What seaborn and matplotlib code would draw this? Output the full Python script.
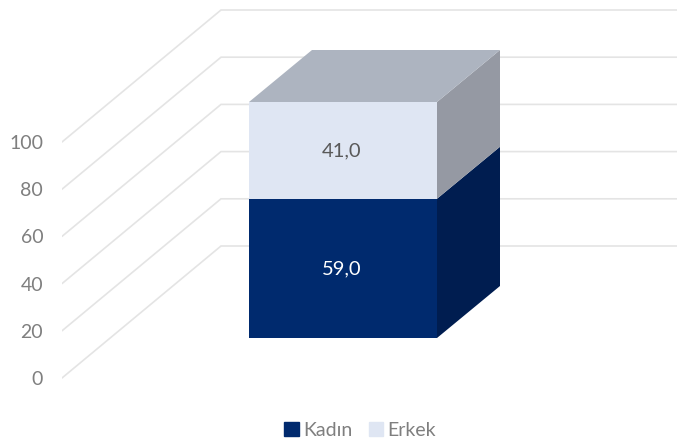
import matplotlib
matplotlib.use('Agg')
import matplotlib.pyplot as plt
from matplotlib.patches import Patch
import seaborn as sns

# Data
category = ['Cinsiyet']
kadin = [59.0]
erkek = [41.0]
ticks = [0, 20, 40, 60, 80, 100]

W, H = 677, 441
PX_PER_UNIT = 2.36

DARK, DARK_SIDE = '#002A6E', '#001D50'
LIGHT, LIGHT_SIDE, LIGHT_TOP = '#DFE6F3', '#9599A3', '#ADB4C0'
GRID = '#E4E4E4'
TEXT = '#7F7F7F'

sns.set_theme(style='white')
plt.rcParams['font.family'] = ['Lato', 'DejaVu Sans']

fig = plt.figure(figsize=(W / 100, H / 100), dpi=100)

# Back walls and value axis, x in pixels from the front of the side wall
wall_left = 62
ax_wall = fig.add_axes([wall_left / W, 0, 1 - wall_left / W, 1])
ax_wall.set_xlim(0, W - wall_left)
ax_wall.set_ylim((378 - H) / PX_PER_UNIT, 378 / PX_PER_UNIT)
wall_dx = 159
wall_dy = 132 / PX_PER_UNIT
for t in ticks:
    ax_wall.plot([0, wall_dx, W - wall_left], [t, t + wall_dy, t + wall_dy], color=GRID, lw=1.2, solid_joinstyle='miter')
ax_wall.set_yticks(ticks)
ax_wall.set_xticks([])
ax_wall.tick_params(axis='y', length=0, pad=13.5, labelsize=14, labelcolor=TEXT)
sns.despine(ax=ax_wall, left=True, bottom=True)
ax_wall.patch.set_alpha(0)

# Bar, front face through seaborn
ax = fig.add_axes([0, 0, 1, 1])
ax.patch.set_alpha(0)
total = [a + b for a, b in zip(kadin, erkek)]
sns.barplot(x=category, y=total, color=LIGHT, saturation=1, width=0.8, linewidth=0, ax=ax)
sns.barplot(x=category, y=kadin, color=DARK, saturation=1, width=0.8, linewidth=0, ax=ax)

px_per_cat = 188 / 0.8
center = 343
ax.set_xlim(-center / px_per_cat, (W - center) / px_per_cat)
ax.set_ylim((338 - H) / PX_PER_UNIT, 338 / PX_PER_UNIT)
ax.set_axis_off()

# Depth of the bar
dx = 63 / px_per_cat
dy = 52 / PX_PER_UNIT
left, right = -0.4, 0.4
top = total[0]
mid = kadin[0]
ax.fill([right, right + dx, right + dx, right], [0, dy, mid + dy, mid], color=DARK_SIDE, lw=0)
ax.fill([right, right + dx, right + dx, right], [mid, mid + dy, top + dy, top], color=LIGHT_SIDE, lw=0)
ax.fill([left, left + dx, right + dx, right], [top, top + dy, top + dy, top], color=LIGHT_TOP, lw=0)

# Value labels
ax.text(-0.005, mid / 2, f'{kadin[0]:.1f}'.replace('.', ','), color='white', fontsize=14.5, ha='center', va='center')
ax.text(-0.005, mid + erkek[0] / 2, f'{erkek[0]:.1f}'.replace('.', ','), color='#595959', fontsize=14.5, ha='center', va='center')

# Legend
handles = [Patch(color=DARK, label='Kadın'), Patch(color=LIGHT, label='Erkek')]
leg = fig.legend(handles=handles, loc='center', bbox_to_anchor=(360 / W, 1 - 430 / H), ncol=2, frameon=False,
                 fontsize=14, labelcolor=TEXT, handlelength=0.75, handleheight=0.75, handletextpad=0.2, columnspacing=0.85)

fig.savefig('out.png', dpi=100)
